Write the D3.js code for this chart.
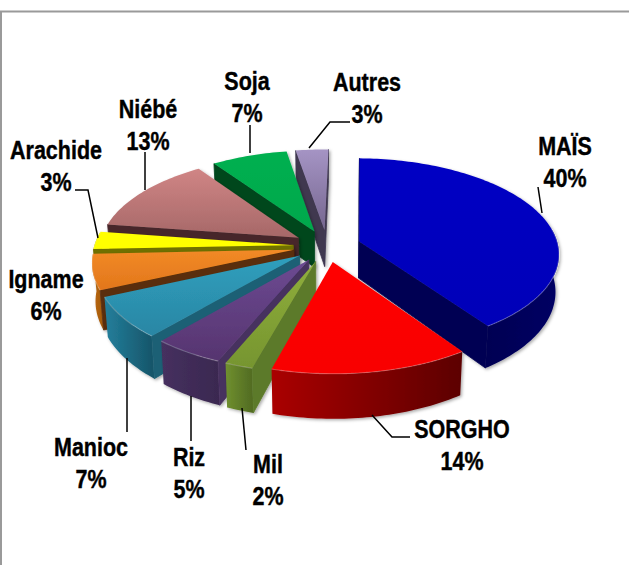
<!DOCTYPE html>
<html><head><meta charset="utf-8">
<script src="https://cdn.jsdelivr.net/npm/d3@7/dist/d3.min.js"></script>
<style>html,body{margin:0;padding:0;background:#fff}svg{display:block}</style>
</head><body>
<svg id="c" width="629" height="565"></svg>
<script>
const categories = ["MAÏS","SORGHO","Mil","Riz","Manioc","Igname","Arachide","Niébé","Soja","Autres"];
const values = [40,14,2,5,7,6,3,13,7,3];
const topLight = ["#0000c4","#ff0000","#8fae3c","#6c4a92","#2f9fbd","#f28a26","#ffff00","#d08585","#00b050","#a594c4"];
const topDark  = ["#0000b8","#f80000","#76952f","#56346f","#2a86a4","#e2761c","#ffff00","#a66868","#00a84c","#75668f"];
const sideWall = ["#000052","#5e0000","#5c7a2a","#47305f","#1c6075","#5a2d08","#6f6f00","#47282c","#00461f","#3f3750"];
const rimLeft  = ["#000052","#aa0000","#70902f","#46305f","#237f9c","#c06a12","#8f8f00","#6f4040","#006030","#555"];
const rimRight = ["#000064","#5c0000","#506a22","#3a2850","#165468","#a05a10","#8f8f00","#6f4040","#006030","#555"];
const labelX = [565,462,268,189,91,46,56,148,247,367];
const labelY = [155,438,473,466,456,288,159,118,90,91];
const leaders = [
 [[538,187],[542,213]],
 [[372,415],[392,437],[410,437]],
 [[242,408],[246,450]],
 [[191,396],[191,441]],
 [[127,358],[127,432]],
 [],
 [[75,190],[88,190],[98,238]],
 [[145,152],[145,190]],
 [[250,125],[250,153]],
 [[350,122],[330,122],[309,148]]
];
const CX=327,CY=246,R=199,RK=94.1,P=0.12,D=37,EXPLODE=0.17,ROT=0.021;
const svg=d3.select("#c");
const defs=svg.append("defs");
const shadow=defs.append("filter").attr("id","sh").attr("x","-20%").attr("y","-20%").attr("width","140%").attr("height","140%");
shadow.append("feDropShadow").attr("dx",1.5).attr("dy",1.5).attr("stdDeviation",1.4).attr("flood-color","#000").attr("flood-opacity",0.33);

// frame
svg.append("path").attr("d","M1,565V11.5H629").attr("fill","none").attr("stroke","#9a9a9a").attr("stroke-width",2);

function proj(u,v,h){
  const s=1/(1+P*v);
  return [CX+R*u*s*(1-0.015*h),CY-RK*v*s+h*D*Math.pow(s,1.3)];
}
const line=d3.line();
const arcs=d3.pie().sort(null).startAngle(ROT).endAngle(2*Math.PI+ROT)(values);
const area=p=>{let a=0;p.forEach((q,i)=>{const r=p[(i+1)%p.length];a+=q[0]*r[1]-r[0]*q[1];});return a;};

const order=arcs.map((a,i)=>({a,i,mid:(a.startAngle+a.endAngle)/2}))
  .sort((m,n)=>Math.cos(n.mid)-Math.cos(m.mid));

order.forEach(({a,i,mid})=>{
  const tu=EXPLODE*Math.sin(mid),tv=EXPLODE*Math.cos(mid);
  const pt=(t,h)=>proj(tu+Math.sin(t),tv+Math.cos(t),h);
  const tip=h=>proj(tu,tv,h);
  const n=Math.max(6,Math.ceil((a.endAngle-a.startAngle)/0.02));
  const ts=d3.range(n+1).map(k=>a.startAngle+(a.endAngle-a.startAngle)*k/n);
  const g=svg.append("g").attr("filter","url(#sh)");

  const tg=defs.append("linearGradient").attr("id","t"+i).attr("x1",0).attr("y1",0).attr("x2",0).attr("y2",1);
  tg.append("stop").attr("offset",0).attr("stop-color",topLight[i]);
  tg.append("stop").attr("offset",1).attr("stop-color",topDark[i]);
  const wg=defs.append("linearGradient").attr("id","w"+i).attr("x1",0).attr("y1",0).attr("x2",1).attr("y2",0);
  wg.append("stop").attr("offset",0).attr("stop-color",rimLeft[i]);
  wg.append("stop").attr("offset",1).attr("stop-color",rimRight[i]);

  // outer wall
  const vis=ts.filter(t=>Math.cos(t)<0.15);
  if(vis.length>1){
    const band=vis.map(t=>pt(t,0)).concat(vis.slice().reverse().map(t=>pt(t,1)));
    g.append("path").attr("d",line(band)+"Z").attr("fill",`url(#w${i})`);
  }
  // radial walls
  const sW=[tip(0),pt(a.startAngle,0),pt(a.startAngle,1),tip(1)];
  const eW=[tip(0),pt(a.endAngle,0),pt(a.endAngle,1),tip(1)];
  if(area(sW)<0) g.append("path").attr("d",line(sW)+"Z").attr("fill",sideWall[i]).attr("stroke",sideWall[i]).attr("stroke-width",0.8);
  if(area(eW)>0) g.append("path").attr("d",line(eW)+"Z").attr("fill",sideWall[i]).attr("stroke",sideWall[i]).attr("stroke-width",0.8);
  // top face
  const face=[tip(0)].concat(ts.map(t=>pt(t,0)));
  g.append("path").attr("d",line(face)+"Z").attr("fill",`url(#t${i})`);
  // bevel highlight on the front rim
  if(vis.length>1){
    g.append("path").attr("d",line(vis.map(t=>pt(t,0)))).attr("fill","none")
     .attr("stroke","#fff").attr("stroke-opacity",0.22).attr("stroke-width",1.2);
  }
});

// leader lines
leaders.forEach(l=>{ if(l.length) svg.append("path").attr("d",line(l)).attr("fill","none").attr("stroke","#000").attr("stroke-width",1.5); });

// labels
categories.forEach((c,i)=>{
  const t=[c,values[i]+"%"];
  t.forEach((s,k)=>{
    svg.append("text").attr("text-anchor","middle")
      .attr("transform",`translate(${labelX[i]},${labelY[i]+k*31.5}) scale(1,1.17)`)
      .attr("font-family","'Liberation Sans',Arial,sans-serif").attr("font-weight",700)
      .attr("font-size",21.5).attr("fill","#000").attr("stroke","#000").attr("stroke-width",0.35).text(s);
  });
});
</script>
</body></html>
